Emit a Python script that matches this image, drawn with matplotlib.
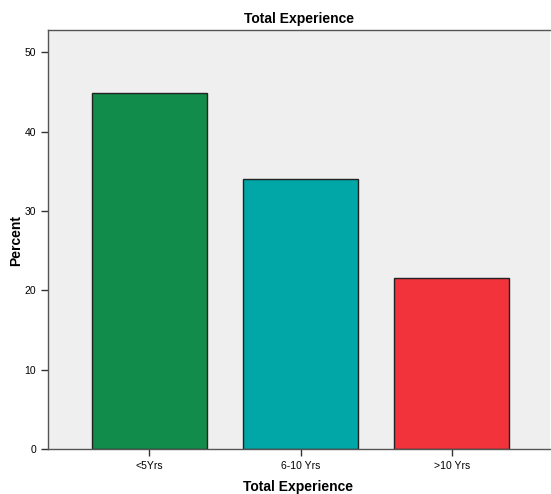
import matplotlib
matplotlib.use('Agg')
import matplotlib.pyplot as plt

# data
categories = ['<5Yrs', '6-10 Yrs', '>10 Yrs']
percent = [44.9, 34.0, 21.5]
colors = ['#118C4A', '#00A7A6', '#F2333B']

plt.rcParams['font.family'] = ['Liberation Sans', 'DejaVu Sans']

fig = plt.figure(figsize=(5.51, 4.94), dpi=100)
ax = fig.add_axes([48 / 551, 45 / 494, 502 / 551, 419 / 494])
ax.set_facecolor('#EFEFEF')

x = range(len(categories))
ax.bar(x, percent, width=0.76, color=colors, edgecolor='#222222', linewidth=1.0, zorder=2)

ax.set_xlim(-0.67, 2.65)
ax.set_ylim(0, 52.8)
ax.set_xticks(list(x))
ax.set_xticklabels(categories, fontsize=7.5)
ax.set_yticks([0, 10, 20, 30, 40, 50])
ax.tick_params(axis='y', labelsize=7.5, length=5, width=1, color='#333333')
ax.tick_params(axis='x', length=5, width=1, color='#333333')

for side in ['left', 'bottom', 'top']:
    ax.spines[side].set_color('#555555')
    ax.spines[side].set_linewidth(1.0)
ax.spines['right'].set_visible(False)

ax.set_title('Total Experience', fontsize=10, fontweight='bold', pad=5)

# axis titles placed in figure pixels (SPSS-like layout)
fig.text(298 / 551, 1 - 487 / 494, 'Total Experience', fontsize=10, fontweight='bold',
         ha='center', va='center')
fig.text(16 / 551, 1 - 240 / 494, 'Percent', fontsize=10, fontweight='bold',
         ha='center', va='center', rotation=90)

fig.savefig('out.png', dpi=100)
